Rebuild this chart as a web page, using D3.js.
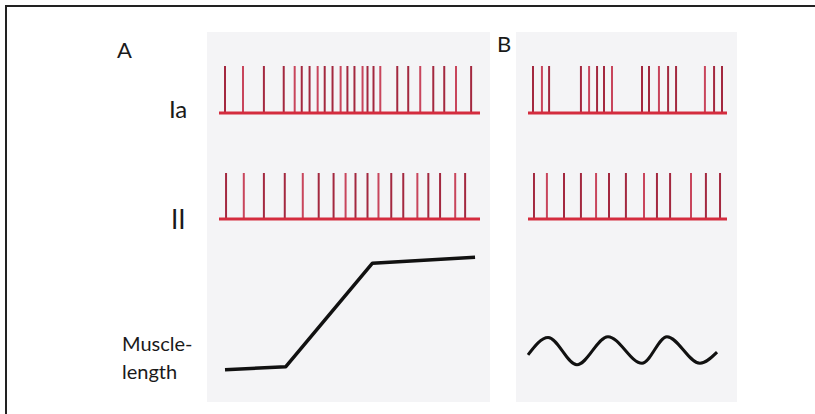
<!DOCTYPE html>
<html>
<head>
<meta charset="utf-8">
<script src="https://cdn.jsdelivr.net/npm/d3@7"></script>
<style>
  body { margin: 0; background: #fff; }
  text { font-family: Lato, 'Noto Sans', sans-serif; fill: #1a1a1a; }
</style>
</head>
<body>
<div id="chart"></div>
<script>
// spike times (0-100 = length of each trace)
const iaA = [2.3, 9.2, 17.2, 24.8, 29.0, 31.7, 34.7, 37.8, 40.5, 43.5, 46.6, 49.2, 51.9, 55.0, 56.9, 59.2, 61.8, 68.3, 72.5, 77.1, 82.1, 86.3, 90.8, 96.6]
const iiA = [2.7, 9.5, 17.2, 25.2, 32.1, 38.2, 43.9, 48.5, 52.3, 56.9, 61.1, 66.0, 70.6, 76.0, 80.2, 84.7, 90.5, 94.3]
const iaB = [2.5, 7.0, 10.6, 26.6, 30.7, 34.7, 38.2, 42.2, 57.3, 60.8, 65.8, 70.4, 74.4, 88.9, 93.5, 97.5]
const iiB = [3.0, 9.5, 18.1, 26.6, 34.2, 40.7, 49.2, 58.3, 64.8, 71.4, 81.9, 89.4, 96.5]

// muscle length traces
const lengthA = [
  { t: 2.3, v: 0.02 },
  { t: 25.6, v: 0.045 },
  { t: 58.8, v: 0.93 },
  { t: 98.1, v: 0.98 },
]
const lengthB = [
  { t: 0, v: -0.35 },
  { t: 10.1, v: 0.9 },
  { t: 24.6, v: -1.05 },
  { t: 40.2, v: 0.95 },
  { t: 57.3, v: -0.95 },
  { t: 69.8, v: 0.95 },
  { t: 86.4, v: -0.95 },
  { t: 95.0, v: -0.15 },
]

const rowLabels = ['Ia', 'II']
const panelLabels = ['A', 'B']

// size
const W = 815
const H = 414

// scale
const xA = d3.scaleLinear().domain([0, 100]).range([219, 480])
const xB = d3.scaleLinear().domain([0, 100]).range([528, 727])
const ySpikeIa = d3.scaleLinear().domain([0, 1]).range([113, 66])
const ySpikeII = d3.scaleLinear().domain([0, 1]).range([219, 173])
const yLenA = d3.scaleLinear().domain([0, 1]).range([372, 255])
const yLenB = d3.scaleLinear().domain([-1, 1]).range([364, 336])

// style
const spikeColor = '#a3283f'
const baseColor = '#d42c3e'

const svg = d3
  .select('#chart')
  .append('svg')
  .attr('width', W)
  .attr('height', H)

// frame (only top and left edges fall inside the picture)
svg
  .append('rect')
  .attr('x', 6)
  .attr('y', 6)
  .attr('width', 830)
  .attr('height', 430)
  .attr('fill', 'none')
  .attr('stroke', '#222')
  .attr('stroke-width', 2)

// faint panel backgrounds
svg
  .selectAll('rect.panel')
  .data([xA, xB])
  .join('rect')
  .attr('class', 'panel')
  .attr('x', x => x.range()[0] - 12)
  .attr('y', 32)
  .attr('width', x => x.range()[1] - x.range()[0] + 22)
  .attr('height', 370)
  .attr('fill', '#f4f4f6')

function spikeTrain(times, x, y) {
  const g = svg.append('g')

  g.selectAll('line.spike')
    .data(times)
    .join('line')
    .attr('class', 'spike')
    .attr('x1', d => x(d))
    .attr('x2', d => x(d))
    .attr('y1', y(0))
    .attr('y2', y(1))
    .attr('stroke', (d, i) => (i % 3 === 1 ? '#c8455c' : spikeColor))
    .attr('stroke-width', 2)

  g.append('line')
    .attr('x1', x(0))
    .attr('x2', x(100))
    .attr('y1', y(0))
    .attr('y2', y(0))
    .attr('stroke', baseColor)
    .attr('stroke-width', 3)
}

spikeTrain(iaA, xA, ySpikeIa)
spikeTrain(iiA, xA, ySpikeII)
spikeTrain(iaB, xB, ySpikeIa)
spikeTrain(iiB, xB, ySpikeII)

// muscle length
svg
  .append('path')
  .datum(lengthA)
  .attr('fill', 'none')
  .attr('stroke', '#111')
  .attr('stroke-width', 3.5)
  .attr('stroke-linejoin', 'round')
  .attr('d', d3.line().x(d => xA(d.t)).y(d => yLenA(d.v)))

svg
  .append('path')
  .datum(lengthB)
  .attr('fill', 'none')
  .attr('stroke', '#111')
  .attr('stroke-width', 3)
  .attr('d', d3.line().curve(d3.curveMonotoneX).x(d => xB(d.t)).y(d => yLenB(d.v)))

// labels
svg.append('text').attr('x', 117).attr('y', 58).attr('font-size', '22px').text(panelLabels[0])
svg.append('text').attr('x', 497).attr('y', 52).attr('font-size', '22px').text(panelLabels[1])

svg.append('text').attr('x', 169).attr('y', 118).attr('font-size', '24px').text(rowLabels[0])
svg.append('text').attr('x', 171).attr('y', 229).attr('font-size', '26px').text(rowLabels[1])

svg.append('text').attr('x', 122).attr('y', 351).attr('font-size', '20px').text('Muscle-')
svg.append('text').attr('x', 122).attr('y', 379).attr('font-size', '20px').text('length')
</script>
</body>
</html>
